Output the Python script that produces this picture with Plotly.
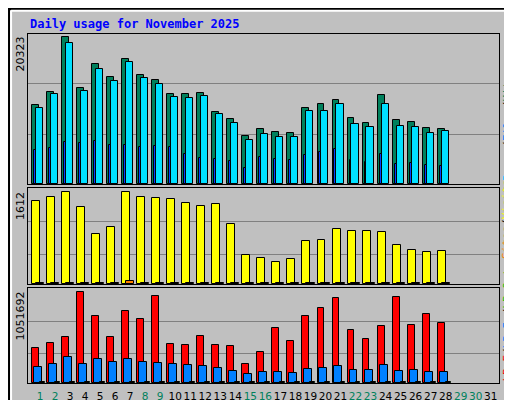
import plotly.graph_objects as go

days = list(range(1, 32))
n = 28
hits = [10920, 12720, 20323, 13270, 16590, 14790, 17280, 15070, 14380, 12440, 12440, 12580, 9950, 8990,
        6640, 7600, 7190, 7050, 10500, 11060, 11610, 9120, 8430, 12300, 8850, 8570, 7740, 7600]
files = [10510, 12440, 19500, 12860, 15900, 14240, 16870, 14660, 13830, 12030, 11890, 12170, 9680, 8430,
         6080, 6910, 6500, 6500, 10090, 10090, 11060, 8300, 7880, 11060, 8020, 7880, 7050, 7330]
pages = [4700, 4980, 5810, 5670, 5950, 5390, 5390, 5120, 5250, 5120, 4150, 3590, 3460, 3180,
         2210, 3730, 3400, 3300, 4000, 4400, 4800, 3300, 3000, 4200, 2800, 2900, 2600, 2500]
visits = [1454, 1524, 1612, 1349, 876, 999, 1612, 1524, 1507, 1489, 1419, 1367, 1402, 1051,
          508, 456, 385, 438, 753, 771, 964, 929, 929, 911, 683, 596, 561, 578]
sites = [15, 16, 18, 15, 12, 13, 60, 16, 16, 15, 15, 14, 14, 12,
         10, 9, 9, 9, 12, 12, 13, 12, 12, 12, 11, 10, 10, 10]
kb_f = [404500, 462000, 531000, 1051692, 774000, 531000, 832000, 740000, 1005000, 451000, 439000, 543000, 439000, 428000,
        220000, 358000, 636000, 485000, 774000, 867000, 982000, 613000, 509000, 659000, 994000, 670000, 797000, 693000]
kb_in = [185000, 220000, 300000, 220000, 277000, 243000, 277000, 243000, 231000, 220000, 208000, 196000, 173000, 139000,
         104000, 127000, 127000, 116000, 162000, 173000, 196000, 150000, 150000, 208000, 139000, 150000, 127000, 127000]
kb_out = [8000] * n
weekend = [1, 2, 8, 9, 15, 16, 22, 23, 29, 30]

x = days[:n]
fig = go.Figure()


def bar(y, color, off, w, ax):
    fig.add_trace(go.Bar(x=x, y=y, offset=off, width=w, marker_color=color,
                         marker_line=dict(color="black", width=1),
                         xaxis="x" + ax, yaxis="y" + ax, showlegend=False))


bar(hits, "#00805c", -0.53, 0.46, "")
bar(files, "#00e0ff", -0.27, 0.47, "")
bar(pages, "#0040ff", -0.4, 0.13, "")
bar(visits, "#ffff00", -0.53, 0.53, "2")
bar(sites, "#ff8000", -0.27, 0.54, "2")
bar(kb_f, "#ff0000", -0.53, 0.46, "3")
bar(kb_in, "#0080ff", -0.4, 0.53, "3")
bar(kb_out, "#00c000", 0.0, 0.33, "3")

ticktext = ["<span style='color:%s'>%d</span>" % ("#00805c" if d in weekend else "black", d) for d in days]
xr = [0.2, 31.55]
xdom = [20 / 512, 491 / 512]
common_x = dict(range=xr, domain=xdom, showgrid=False, zeroline=False, showline=True,
                linecolor="black", mirror=True, fixedrange=True, automargin=False)
common_y = dict(showline=True, linecolor="black", mirror=True, zeroline=False,
                gridcolor="#808080", showticklabels=False, ticks="", automargin=False)

top1, top2, top3 = 20323 * 150 / 147, 1612 * 96 / 92, 1051692 * 95 / 91
fig.update_layout(
    width=512, height=400, margin=dict(l=0, r=0, t=0, b=0),
    paper_bgcolor="#c0c0c0", plot_bgcolor="#c0c0c0", barmode="overlay", bargap=0,
    font=dict(family="DejaVu Sans", size=11, color="black"),
    xaxis=dict(common_x, anchor="y", showticklabels=False),
    xaxis2=dict(common_x, anchor="y2", showticklabels=False),
    xaxis3=dict(common_x, anchor="y3", tickvals=days, ticktext=ticktext, ticks="",
                tickangle=0, tickfont=dict(size=10.5), ticklabelstandoff=3),
    yaxis=dict(common_y, domain=[1 - 176 / 400, 1 - 26 / 400], range=[0, top1],
               tickvals=[top1 * 0.33, top1 * 0.667]),
    yaxis2=dict(common_y, domain=[1 - 276 / 400, 1 - 180 / 400], range=[0, top2],
                tickvals=[top2 * 0.31, top2 * 0.656]),
    yaxis3=dict(common_y, domain=[1 - 375 / 400, 1 - 280 / 400], range=[0, top3],
                tickvals=[top3 * 0.31, top3 * 0.65]),
    shapes=[
        dict(type="rect", xref="paper", yref="paper", x0=0.002, x1=0.998, y0=0.0025, y1=0.9975,
             line=dict(color="black", width=2)),
        dict(type="line", xref="paper", yref="paper", x0=0.006, x1=0.006, y0=0.01, y1=0.993,
             line=dict(color="white", width=2)),
        dict(type="line", xref="paper", yref="paper", x0=0.006, x1=0.992, y0=0.993, y1=0.993,
             line=dict(color="white", width=2)),
        dict(type="line", xref="paper", yref="paper", x0=0.992, x1=0.992, y0=0.01, y1=0.993,
             line=dict(color="#808080", width=3)),
        dict(type="line", xref="paper", yref="paper", x0=0.006, x1=0.992, y0=0.01, y1=0.01,
             line=dict(color="#808080", width=3)),
    ],
)

ann = [
    dict(text="<b>Daily usage for November 2025</b>", x=20 / 512, y=1 - 16 / 400, xanchor="left",
         yanchor="middle", font=dict(family="DejaVu Sans Mono", size=12, color="#0000ff")),
    dict(text="20323", x=12 / 512, y=1 - 27 / 400, xanchor="center", yanchor="top", textangle=-90),
    dict(text="1612", x=12 / 512, y=1 - 182 / 400, xanchor="center", yanchor="top", textangle=-90),
    dict(text="1051692", x=12 / 512, y=1 - 282 / 400, xanchor="center", yanchor="top", textangle=-90),
    dict(text="<span style='color:#00c0ff'>Pages</span>/<span style='color:#0080ff'>Files</span>/"
              "<span style='color:#00805c'>Hits</span>",
         x=499 / 512, y=1 - 175 / 400, xanchor="center", yanchor="bottom", textangle=-90,
         font=dict(family="DejaVu Sans Mono", size=11)),
    dict(text="<span style='color:#ff8000'>Sites</span>/<span style='color:#ffff00'>Visits</span>",
         x=499 / 512, y=1 - 253 / 400, xanchor="center", yanchor="bottom", textangle=-90,
         font=dict(family="DejaVu Sans Mono", size=11)),
    dict(text="<span style='color:#ff0000'>kB F</span>/<span style='color:#0080ff'>kB In</span>/"
              "<span style='color:#00c000'>kB Out</span>",
         x=499 / 512, y=1 - 376 / 400, xanchor="center", yanchor="bottom", textangle=-90,
         font=dict(family="DejaVu Sans Mono", size=11)),
]
for a in ann:
    a.update(xref="paper", yref="paper", showarrow=False)
    fig.add_annotation(**a)

fig.write_html("out.html")
